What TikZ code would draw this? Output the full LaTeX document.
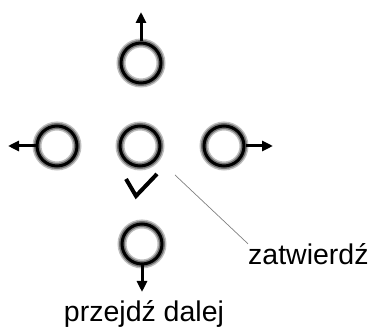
\documentclass[tikz,border=0pt]{standalone}
\usepackage{fontspec}
\setmainfont{Liberation Sans}
\usetikzlibrary{arrows.meta}

\tikzset{
  btn/.style={circle, minimum size=40pt, inner sep=0pt,
    draw=black, line width=3pt,
    preaction={draw=black!25, line width=9pt},
    preaction={draw=black!55, line width=6pt}},
  dir/.style={-{Triangle[length=11pt,width=10pt]}, line width=3pt},
  lbl/.style={font=\fontsize{28.5}{32}\selectfont, inner sep=0pt}
}

\begin{document}
\begin{tikzpicture}[x=1pt,y=-1pt]
    \useasboundingbox (0,0) rectangle (378,328);
    \path
    node[btn] (up) at (141,63) {}
    node[btn] (left) at (57,146) {}
    node[btn] (mid) at (140,146) {}
    node[btn] (right) at (224,146) {}
    node[btn] (down) at (142,244) {};

    \coordinate (up') at (141,12);
    \coordinate (left') at (8,146);
    \coordinate (right') at (273,146);
    \coordinate (down') at (142,292);

    \path
    (up) edge[dir] (up')
    (left) edge[dir] (left')
    (right) edge[dir] (right')
    (down) edge[dir] (down');

    % check mark and labels
    \coordinate (ok) at (136,196);
    \draw[line width=4pt] (ok) ++(-10,-17) -- (ok) -- ++(21,-22);

    \node[lbl, anchor=base] (next) at (144,322) {przejdź dalej};
    \node[lbl, anchor=base west] (conf) at (248,265) {zatwierdź};
    \coordinate (tip) at (175,175);
    \draw[black!50, line width=0.7pt] (tip) -- (conf.north west);
\end{tikzpicture}
\end{document}
